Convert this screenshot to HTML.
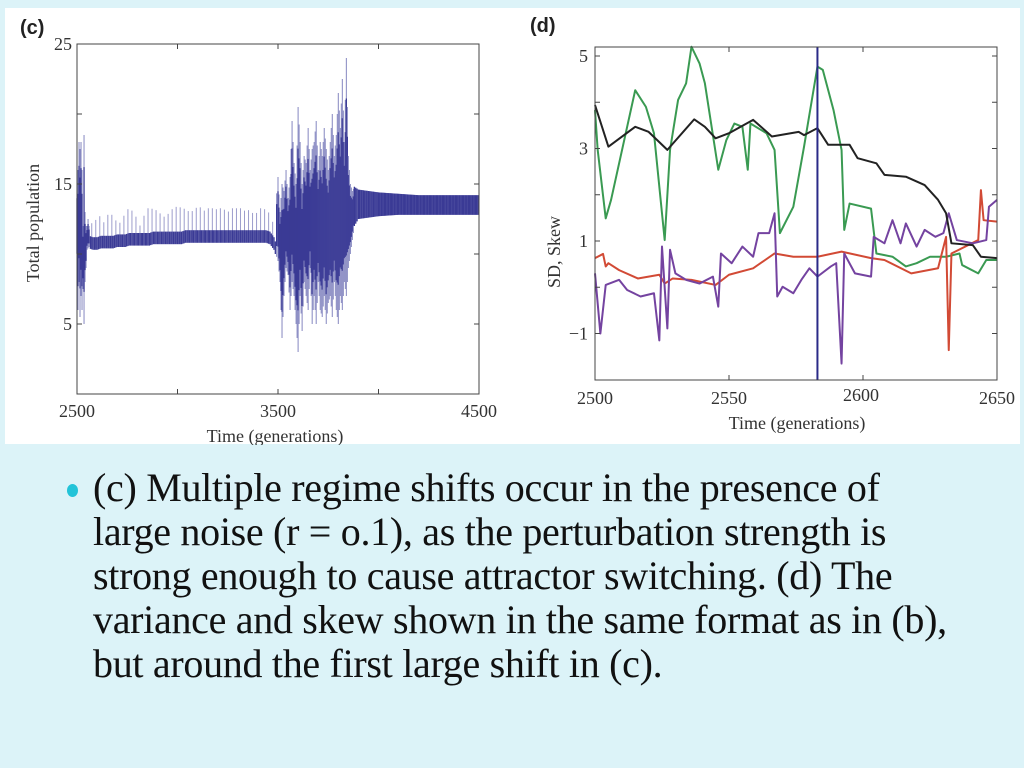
<!DOCTYPE html>
<html><head><meta charset="utf-8">
<style>
html,body{margin:0;padding:0;}
body{width:1024px;height:768px;background:#dcf3f8;position:relative;overflow:hidden;font-family:"Liberation Serif",serif;}
#fig{position:absolute;left:0;top:0;}
.line{position:absolute;left:93px;font-size:40px;line-height:44px;color:#111;white-space:nowrap;font-family:"Liberation Serif",serif;letter-spacing:-0.3px;}
.bullet{position:absolute;left:67px;top:484px;width:11px;height:13px;border-radius:50%;background:#22c3d8;}
</style></head>
<body>
<svg id="fig" width="1024" height="445" xmlns="http://www.w3.org/2000/svg">
<rect x="5" y="8" width="1015" height="436" fill="#ffffff"/>
<text x="20" y="34" font-family="Liberation Sans, sans-serif" font-weight="bold" font-size="20" fill="#222">(c)</text>
<text x="530" y="32" font-family="Liberation Sans, sans-serif" font-weight="bold" font-size="20" fill="#222">(d)</text>
<g id="chartC"></g>
<g id="chartD"></g>
</svg>
<div class="bullet"></div>
<div>
<div class="line" style="top:466px">(c) Multiple regime shifts occur in the presence of</div>
<div class="line" style="top:510px">large noise (r = o.1), as the perturbation strength is</div>
<div class="line" style="top:554px">strong enough to cause attractor switching. (d) The</div>
<div class="line" style="top:598px">variance and skew shown in the same format as in (b),</div>
<div class="line" style="top:642px">but around the first large shift in (c).</div>
</div>
<script>
// ---- Chart C data (envelope of total population) ----
const cTimes = [2500,2505,2510,2515,2520,2525,2530,2535,2540,2545,2550,2555,2560,2580,2600,2620,2640,2660,2680,2700,2720,2740,2760,2780,2800,2820,2840,2860,2880,2900,2920,2940,2960,2980,3000,3020,3040,3060,3080,3100,3120,3140,3160,3180,3200,3220,3240,3260,3280,3300,3320,3340,3360,3380,3400,3420,3440,3460,3480,3500,3510,3520,3530,3540,3550,3560,3570,3580,3590,3600,3610,3620,3630,3640,3650,3660,3670,3680,3690,3700,3710,3720,3730,3740,3750,3760,3770,3780,3790,3800,3810,3820,3830,3840,3850,3860,3870,3880,3900,3950,4000,4100,4200,4300,4400,4500];
const cLow = [9,6,8,5.5,7,6,7.5,5,8,9,10.3,10.4,10.5,10.4,10.4,10.5,10.5,10.5,10.5,10.6,10.6,10.6,10.7,10.7,10.7,10.7,10.7,10.7,10.8,10.8,10.8,10.8,10.8,10.8,10.8,10.8,10.9,10.9,10.9,10.9,10.9,10.9,10.9,10.9,10.9,10.9,10.9,10.9,10.9,10.9,10.9,10.9,10.9,10.9,10.9,10.9,10.9,10.8,10.4,9.5,8,4,7,9,8.5,6,8,7,5,3,7,4.5,8,7,6,9,5,7,5,8,6,5.5,7,5,6.5,7,5.5,8,6,5,7,6,8,7,9,10,11,12,12.5,12.6,12.7,12.8,12.8,12.8,12.8,12.8];
const cHigh = [15,16,18,17.5,18,16,12,18.5,13,12,12,12.5,12,12.3,12.5,12.8,12,13.2,12.6,12.3,12.2,13,13.3,13,12.5,11.8,13.2,13.3,13.2,13.1,12.8,12.6,13,13.3,13.4,13.3,13.2,13,13.1,13.4,13.3,13,13.4,13.2,13.2,13.3,13.1,13,13.4,13.2,13.3,13,13.2,12.8,13,13.4,13.1,12.9,12,15.5,13,15,14.5,16,14,15.5,19.5,16.5,15,20.5,18,15,17,16.5,19,16,17.5,18,19.5,16,18,17,19,17.5,16,18,20,17,18.5,21.5,19,22.5,18,24,17,15,14.5,14.8,14.6,14.5,14.4,14.3,14.2,14.2,14.2,14.2];

// ---- Chart D data ----
const blackT = [2500,2505,2515,2520,2527,2537,2541,2545,2550,2559,2566,2576,2578,2583,2587,2595,2598,2605,2608,2616,2623,2628,2631,2633,2641,2644,2650];
const blackV = [3.94,3.04,3.47,3.36,2.97,3.63,3.47,3.22,3.33,3.62,3.26,3.36,3.29,3.44,3.08,3.08,2.79,2.68,2.43,2.39,2.21,1.89,1.6,0.95,0.91,0.66,0.63];
const greenT = [2500,2501,2504,2506,2515,2519,2522,2526,2528,2531,2534,2536,2539,2541,2546,2549,2552,2555,2557,2558,2564,2567,2569,2574,2578,2583,2585,2589,2592,2593,2595,2603,2605,2611,2616,2620,2625,2631,2636,2637,2643,2646,2650];
const greenV = [3.83,2.97,1.49,1.89,4.26,3.9,3.33,1.02,2.97,4.05,4.41,5.2,4.84,4.41,2.54,3.18,3.54,3.47,2.54,3.54,3.33,2.97,1.17,1.74,3.04,4.77,4.7,3.83,2.97,1.24,1.81,1.7,0.73,0.66,0.45,0.52,0.66,0.66,0.73,0.48,0.3,0.59,0.59];
const redT = [2500,2503,2504,2505,2509,2516,2524,2526,2529,2536,2545,2550,2559,2567,2574,2583,2592,2603,2608,2618,2628,2631,2632,2633,2643,2644,2645,2650];
const redV = [0.63,0.72,0.45,0.52,0.37,0.19,0.27,0.08,0.19,0.16,0.05,0.27,0.41,0.73,0.66,0.66,0.77,0.63,0.59,0.3,0.41,1.09,-1.36,0.73,1.02,2.1,1.45,1.42];
const purpleT = [2500,2502,2504,2509,2512,2517,2522,2524,2525,2527,2528,2530,2534,2539,2544,2546,2547,2551,2555,2559,2561,2565,2567,2568,2570,2574,2577,2580,2583,2588,2590,2592,2593,2597,2603,2604,2608,2611,2614,2616,2620,2623,2627,2630,2632,2635,2641,2646,2647,2650];
const purpleV = [0.3,-1,0.05,0.16,-0.06,-0.2,-0.13,-1.15,0.88,-0.89,0.81,0.3,0.16,0.08,0.23,-0.42,0.73,0.52,0.88,0.66,1.17,1.17,1.6,-0.2,0.01,-0.13,0.16,0.41,0.23,0.45,0.52,-1.65,0.73,0.3,0.23,1.09,0.95,1.45,0.95,1.38,0.88,1.24,1.09,1.17,1.6,1.02,0.95,1.02,1.74,1.89];
const shiftTime = [2583];

const NS = "http://www.w3.org/2000/svg";
function mk(parent, tag, attrs){ const e=document.createElementNS(NS,tag); for(const k in attrs) e.setAttribute(k,attrs[k]); parent.appendChild(e); return e; }

// ---- Chart C ----
(function(){
  const g = document.getElementById('chartC');
  const L=77,R=479,T=44,B=394;
  const xs = t => L + (t-2500)/2000*(R-L);
  const ys = v => B - v/25*(B-T);
  let k=0;
  for(let i=0;i<cTimes.length-1;i++){
    const t0=cTimes[i], t1=cTimes[i+1];
    const steps = Math.max(1, Math.round((xs(t1)-xs(t0))/1.2));
    for(let s=0;s<steps;s++){
      k++;
      const f=s/steps, t=t0+(t1-t0)*f;
      const lo=cLow[i]+(cLow[i+1]-cLow[i])*f, hi=cHigh[i]+(cHigh[i+1]-cHigh[i])*f;
      const quiet = t>2565 && t<3490;
      if(!quiet || k%3===0){
        const ln = mk(g,'line',{x1:xs(t),x2:xs(t),y1:ys(lo),y2:ys(hi),stroke:quiet?'#9c9dcc':'#8587c0','stroke-width':1});
        
        
      }
      let clo, chi;
      if(quiet){ clo=lo-0.1; chi=lo+0.8; }
      else if(t>=3880){ clo=lo; chi=hi; }
      else { const mid=(lo+hi)/2, half=(hi-lo)*0.33; clo=mid-half; chi=mid+half; }
      const c = mk(g,'line',{x1:xs(t),x2:xs(t),y1:ys(clo),y2:ys(chi),stroke:'#3a3a95','stroke-width':1.3});
      
      
    }
  }
  mk(g,'rect',{x:L,y:T,width:R-L,height:B-T,fill:'none',stroke:'#444','stroke-width':1});
  [0,5,10,15,20,25].forEach(v=>{ mk(g,'line',{x1:L,x2:L+5,y1:ys(v),y2:ys(v),stroke:'#444'}); mk(g,'line',{x1:R,x2:R-5,y1:ys(v),y2:ys(v),stroke:'#444'}); });
  ['5','15','25'].forEach(s=>{ const t=mk(g,'text',{x:L-5,y:ys(+s)+6,'text-anchor':'end','font-size':18,fill:'#333','font-family':'Liberation Serif, serif'}); t.textContent=s;   });
  [2500,3000,3500,4000,4500].forEach(v=>{ mk(g,'line',{x1:xs(v),x2:xs(v),y1:B,y2:B-5,stroke:'#444'}); mk(g,'line',{x1:xs(v),x2:xs(v),y1:T,y2:T+5,stroke:'#444'}); });
  ['2500','3500','4500'].forEach(s=>{ const t=mk(g,'text',{x:xs(+s),y:417,'text-anchor':'middle','font-size':18,fill:'#333','font-family':'Liberation Serif, serif'}); t.textContent=s;   });
  const xt=mk(g,'text',{x:275,y:442,'text-anchor':'middle','font-size':18,fill:'#333','font-family':'Liberation Serif, serif'}); xt.textContent='Time (generations)';
   
  const yt=mk(g,'text',{x:0,y:0,transform:'translate(39,223) rotate(-90)','text-anchor':'middle','font-size':18,fill:'#333','font-family':'Liberation Serif, serif'}); yt.textContent='Total population';
   
})();

// ---- Chart D ----
(function(){
  const g = document.getElementById('chartD');
  const L=595,R=997,T=47,B=380;
  const xs = t => L + (t-2500)/150*(R-L);
  const ys = v => 56 + (5-v)*46.25;
  function series(ts, vs, color, name){
    const p = mk(g,'polyline',{points: ts.map((t,i)=>xs(t)+','+ys(vs[i])).join(' '), fill:'none', stroke:color,'stroke-width':2,'stroke-linejoin':'round'});
    
    
  }
  series(greenT, greenV, '#3a9a52', 'green-series');
  series(redT, redV, '#d24a35', 'red-series');
  series(purpleT, purpleV, '#7443a0', 'purple-series');
  series(blackT, blackV, '#222222', 'black-series');
  const vl = mk(g,'line',{x1:xs(shiftTime[0]),x2:xs(shiftTime[0]),y1:T,y2:B,stroke:'#2a2a88','stroke-width':2});
   
  mk(g,'rect',{x:L,y:T,width:R-L,height:B-T,fill:'none',stroke:'#444','stroke-width':1});
  [-1,0,1,2,3,4,5].forEach(v=>{ mk(g,'line',{x1:L,x2:L+5,y1:ys(v),y2:ys(v),stroke:'#444'}); mk(g,'line',{x1:R,x2:R-5,y1:ys(v),y2:ys(v),stroke:'#444'}); });
  [['\u22121',-1],['1',1],['3',3],['5',5]].forEach(a=>{ const t=mk(g,'text',{x:L-7,y:ys(a[1])+6,'text-anchor':'end','font-size':18,fill:'#333','font-family':'Liberation Serif, serif'}); t.textContent=a[0];   });
  [2500,2550,2600,2650].forEach(v=>{ mk(g,'line',{x1:xs(v),x2:xs(v),y1:B,y2:B-5,stroke:'#444'}); mk(g,'line',{x1:xs(v),x2:xs(v),y1:T,y2:T+5,stroke:'#444'});
    const t=mk(g,'text',{x:xs(v)+(v==2600?-2:0),y:v==2600?401:404,'text-anchor':'middle','font-size':18,fill:'#333','font-family':'Liberation Serif, serif'}); t.textContent=String(v);   });
  const xt=mk(g,'text',{x:797,y:429,'text-anchor':'middle','font-size':18,fill:'#333','font-family':'Liberation Serif, serif'}); xt.textContent='Time (generations)';
   
  const yt=mk(g,'text',{x:0,y:0,transform:'translate(560,252) rotate(-90)','text-anchor':'middle','font-size':18,fill:'#333','font-family':'Liberation Serif, serif'}); yt.textContent='SD, Skew';
   
})();
</script>
</body></html>
